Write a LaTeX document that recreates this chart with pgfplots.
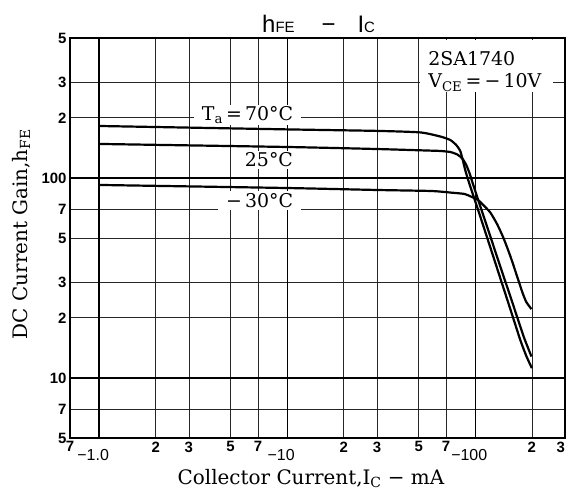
\documentclass[border=0pt]{standalone}
\usepackage{fontspec}
\setmainfont{DejaVu Serif}
\newfontfamily\sansf{Liberation Sans}
\usepackage{pgfplots}
\pgfplotsset{compat=1.18}
\begin{document}
\begin{tikzpicture}
\begin{loglogaxis}[
  at={(70bp,54.8bp)}, anchor=south west,
  width=495bp, height=400bp, scale only axis,
  xmin=0.7, xmax=300, ymin=5, ymax=500,
  axis line style={line width=1.5bp, black},
  xtick={0.7,2,3,5,7,20,30,50,70,200,300},
  xticklabels={7,2,3,5,7,2,3,5,7,2,{\makebox[0pt][r]{3}}},
  extra x ticks={1,10,100},
  extra x tick labels={−1.0,−10,−100},
  extra x tick style={major grid style={black,line width=1.4bp},
     xticklabel style={yshift=-8bp,xshift=-6bp,font=\sansf\fontsize{16}{16}\selectfont}},
  ytick={5,7,10,20,30,50,70,100,200,300,500},
  yticklabels={5,7,10,2,3,5,7,100,2,3,5},
  extra y ticks={10,100},
  extra y tick labels={},
  extra y tick style={major grid style={black,line width=1.4bp}},
  xminorticks=false, yminorticks=false,
  grid=major,
  major grid style={black!85, line width=0.7bp},
  major tick length=0pt,
  tick label style={font=\sansf\bfseries\fontsize{15}{15}\selectfont},
  /pgf/number format/assume math mode=true,
]
% 70 C
\addplot[black, line width=2.2bp, smooth, tension=0.35] coordinates {
(1,182) (10,175) (30,172) (51,169) (65.2,161.2) (73.6,154.9) (79.2,146.2)
(83.2,136.5) (85.8,123) (89,107.2) (93.5,92.3) (106.3,64.2) (120.2,45)
(135.8,31.6) (153.6,22.1) (173.5,15.5) (186.7,12.9) (200,11.2)};
% 25 C
\addplot[black, line width=2.2bp, smooth, tension=0.35] coordinates {
(1,148) (10,142.9) (30,139.6) (58.2,137) (65.2,136.5) (73.6,134.9)
(80.2,131.1) (85.3,125.2) (89.6,116.1) (93.5,104.7) (97.8,91.7)
(107.2,70.6) (120.2,51.1) (135.8,36.1) (153.6,25.6) (169.3,19.4)
(182.2,15.8) (199,12.8)};
% -30 C
\addplot[black, line width=2.2bp, smooth, tension=0.35] coordinates {
(1,92.3) (10,89.1) (30,87.1) (58.2,86.1) (74.4,84.5) (87.7,83.2)
(95.2,80.6) (103.4,77.6) (110.3,73.3) (120.2,67.2) (130.5,58.9)
(140.9,50.4) (153.6,40.7) (167.3,32) (177.8,26.9) (186.7,24) (199,22.1)};

\fill[white] (axis cs:51,268) rectangle (axis cs:258,488);
\node[anchor=base west, inner sep=0pt, font=\fontsize{19}{19}\selectfont] at (axis cs:56.2,367) {2SA1740};
\node[anchor=base west, inner sep=0pt, font=\fontsize{19}{19}\selectfont] at (axis cs:56.2,282) {V\textsubscript{CE}\,=\,−\,10V};

\node[anchor=base east, fill=white, inner xsep=8bp, inner ysep=2bp, font=\fontsize{19}{19}\selectfont] at (axis cs:11.9,193.4) {T\textsubscript{a}\,=\,70°C};
\node[anchor=base east, fill=white, inner xsep=4bp, inner ysep=2bp, font=\fontsize{19}{19}\selectfont] at (axis cs:11.3,113.9) {25°C};
\node[anchor=base east, fill=white, inner xsep=8bp, inner ysep=2bp, font=\fontsize{19}{19}\selectfont] at (axis cs:11.9,71.4) {−\,30°C};
\end{loglogaxis}
\node[anchor=base west, inner sep=0pt] at (262bp,460bp) {\sansf\fontsize{24}{24}\selectfont h\fontsize{15}{15}\selectfont FE\hspace{27bp}\fontsize{24}{24}\selectfont −\hspace{22bp}I\fontsize{15}{15}\selectfont C};
\node[anchor=base, inner sep=0pt, font=\fontsize{20}{20}\selectfont] at (311bp,9bp) {Collector Current,I\textsubscript{C} − mA};
\node[anchor=base, rotate=90, inner sep=0pt, font=\fontsize{20}{20}\selectfont] at (27bp,259bp) {DC Current Gain,h\textsubscript{FE}};
\pgfresetboundingbox
\path (0bp,0bp) rectangle (566bp,493bp);
\end{tikzpicture}
\end{document}
